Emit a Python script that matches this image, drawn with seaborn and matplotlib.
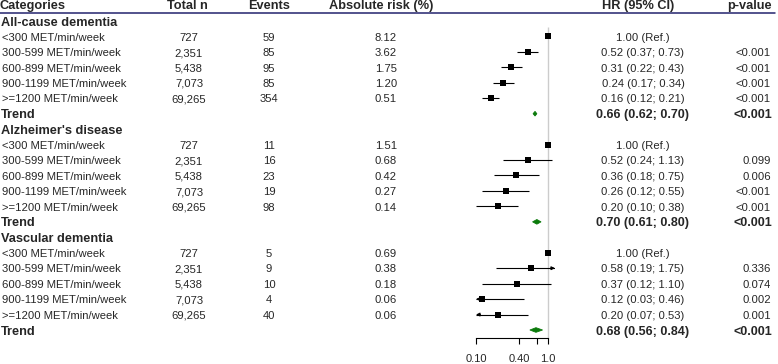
import matplotlib
matplotlib.use('Agg')
import matplotlib.pyplot as plt
import seaborn as sns
import pandas as pd
import numpy as np

# data
outcomes = ['All-cause dementia', "Alzheimer's disease", 'Vascular dementia']
levels = ['<300 MET/min/week', '300-599 MET/min/week', '600-899 MET/min/week',
          '900-1199 MET/min/week', '>=1200 MET/min/week']
total_n = ['727', '2,351', '5,438', '7,073', '69,265']
events = [['59', '85', '95', '85', '354'],
          ['11', '16', '23', '19', '98'],
          ['5', '9', '10', '4', '40']]
abs_risk = [['8.12', '3.62', '1.75', '1.20', '0.51'],
            ['1.51', '0.68', '0.42', '0.27', '0.14'],
            ['0.69', '0.38', '0.18', '0.06', '0.06']]
hr = [[1.00, 0.52, 0.31, 0.24, 0.16],
      [1.00, 0.52, 0.36, 0.26, 0.20],
      [1.00, 0.58, 0.37, 0.12, 0.20]]
hr_lo = [[np.nan, 0.37, 0.22, 0.17, 0.12],
         [np.nan, 0.24, 0.18, 0.12, 0.10],
         [np.nan, 0.19, 0.12, 0.03, 0.07]]
hr_hi = [[np.nan, 0.73, 0.43, 0.34, 0.21],
         [np.nan, 1.13, 0.75, 0.55, 0.38],
         [np.nan, 1.75, 1.10, 0.46, 0.53]]
p_vals = [['', '<0.001', '<0.001', '<0.001', '<0.001'],
          ['', '0.099', '0.006', '<0.001', '<0.001'],
          ['', '0.336', '0.074', '0.002', '0.001']]
trend_hr = [0.66, 0.70, 0.68]
trend_lo = [0.62, 0.61, 0.56]
trend_hi = [0.70, 0.80, 0.84]
trend_p = ['<0.001', '<0.001', '<0.001']

x_ticks = [0.1, 0.4, 0.7, 1.0]
x_tick_labels = ['0.10', '0.40', '', '1.0']

# build a long table: one row per line of the forest plot
rows = []
r = 1
for i, out in enumerate(outcomes):
    rows.append({'row': r, 'kind': 'group', 'label': out})
    r += 1
    for j, lev in enumerate(levels):
        rows.append({'row': r, 'kind': 'level', 'label': lev, 'n': total_n[j],
                     'events': events[i][j], 'risk': abs_risk[i][j],
                     'hr': hr[i][j], 'lo': hr_lo[i][j], 'hi': hr_hi[i][j],
                     'p': p_vals[i][j]})
        r += 1
    rows.append({'row': r, 'kind': 'trend', 'label': 'Trend', 'hr': trend_hr[i],
                 'lo': trend_lo[i], 'hi': trend_hi[i], 'p': trend_p[i]})
    r += 1
df = pd.DataFrame(rows)

sns.set_theme(style='white')
plt.rcParams['font.family'] = ['Liberation Sans', 'DejaVu Sans']

W, H = 778, 364
fig = plt.figure(figsize=(W / 100, H / 100), dpi=100)

# row units: row 1 at 21px from top, 15.45px per row
step = 15.45
y_top = 1 - 21 / step
y_bot = 1 + (H - 21) / step

ax_t = fig.add_axes([0, 0, 1, 1])
ax_t.set_xlim(0, W)
ax_t.set_ylim(y_bot, y_top)
ax_t.axis('off')

ax = fig.add_axes([476 / W, 0, (555 - 476) / W, 1], sharey=ax_t)
ax.set_xscale('log')
xmin, xmax = 0.1, 1.25
ax.set_xlim(xmin, xmax)
ax.patch.set_alpha(0)

hdr_fs = 9.2
fs = 8.1
b_off = 4.6 / step   # baseline offset for bold text
r_off = 4.2 / step   # baseline offset for regular text

def bold(x, y, s, ha='left', size=hdr_fs):
    ax_t.text(x, y + b_off, s, fontsize=size, fontweight='bold', va='baseline', ha=ha)

def reg(x, y, s, ha='left'):
    ax_t.text(x, y + r_off, s, fontsize=fs, va='baseline', ha=ha)

head_y = 1 - 16.4 / step
bold(0, head_y, 'Categories')
bold(187, head_y, 'Total n', 'center')
bold(269, head_y, 'Events', 'center')
bold(381, head_y, 'Absolute risk (%)', 'center')
bold(638, head_y, 'HR (95% CI)', 'center')
bold(772, head_y, 'p-value', 'right')
line_y = 1 - 8.1 / step
ax_t.plot([0, 775], [line_y, line_y], color='#23236e', lw=1.1)

for _, d in df.iterrows():
    y = d['row']
    if d['kind'] == 'group':
        bold(1, y, d['label'])
    elif d['kind'] == 'level':
        reg(2, y, d['label'])
        reg(189, y, d['n'], 'center')
        reg(269, y, d['events'], 'center')
        reg(397, y, d['risk'], 'right')
        if np.isnan(d['lo']):
            txt = f"{d['hr']:.2f} (Ref.)"
        else:
            txt = f"{d['hr']:.2f} ({d['lo']:.2f}; {d['hi']:.2f})"
        reg(643, y, txt, 'center')
        reg(771, y, d['p'], 'right')
    else:
        bold(1, y, d['label'])
        txt = f"{d['hr']:.2f} ({d['lo']:.2f}; {d['hi']:.2f})"
        bold(643, y, txt, 'center', 9)
        bold(772, y, d['p'], 'right', 9)

# reference line at HR = 1
axis_y = 21.52
ax.vlines(1.0, 1.4, axis_y, color='#cccccc', lw=1.0, zorder=1)

lev = df[df['kind'] == 'level']
# confidence intervals, with arrows where they leave the axis
for _, d in lev.iterrows():
    if np.isnan(d['lo']):
        continue
    lo_c = max(d['lo'], xmin)
    hi_c = min(d['hi'], xmax)
    ax.hlines(d['row'], lo_c, hi_c, color='black', lw=0.8, zorder=2)
    if d['lo'] < xmin:
        ax.annotate('', xy=(xmin, d['row']), xytext=(xmin * 1.15, d['row']),
                    arrowprops=dict(arrowstyle='-|>', color='black', lw=0.8,
                                    mutation_scale=5, shrinkA=0, shrinkB=0))
    if d['hi'] > xmax:
        ax.annotate('', xy=(xmax, d['row']), xytext=(xmax / 1.15, d['row']),
                    arrowprops=dict(arrowstyle='-|>', color='black', lw=0.8,
                                    mutation_scale=5, shrinkA=0, shrinkB=0))

sns.scatterplot(data=lev, x='hr', y='row', marker='s', s=22, color='black',
                edgecolor='black', linewidth=0, ax=ax, zorder=3, legend=False)

# trend diamonds
tr = df[df['kind'] == 'trend']
dh = 0.15
for _, d in tr.iterrows():
    ax.fill([d['lo'], d['hr'], d['hi'], d['hr']],
            [d['row'], d['row'] - dh, d['row'], d['row'] + dh],
            color='#0b7a0b', lw=0.6, edgecolor='#0b7a0b', zorder=3)

for s in ['top', 'right', 'left']:
    ax.spines[s].set_visible(False)
ax.spines['bottom'].set_position(('data', axis_y))
ax.spines['bottom'].set_bounds(0.1, 1.0)
ax.spines['bottom'].set_color('black')
ax.spines['bottom'].set_linewidth(0.8)
ax.set_xticks(x_ticks)
ax.set_xticklabels(x_tick_labels)
ax.xaxis.set_minor_locator(matplotlib.ticker.NullLocator())
ax.tick_params(axis='x', direction='out', length=4.3, width=0.8, color='black',
               labelsize=8, pad=7.5, bottom=True)
ax.tick_params(axis='y', left=False, labelleft=False)
ax.set_xlabel('')
ax.set_ylabel('')
ax.set_ylim(y_bot, y_top)

fig.savefig('out.png', dpi=100)
